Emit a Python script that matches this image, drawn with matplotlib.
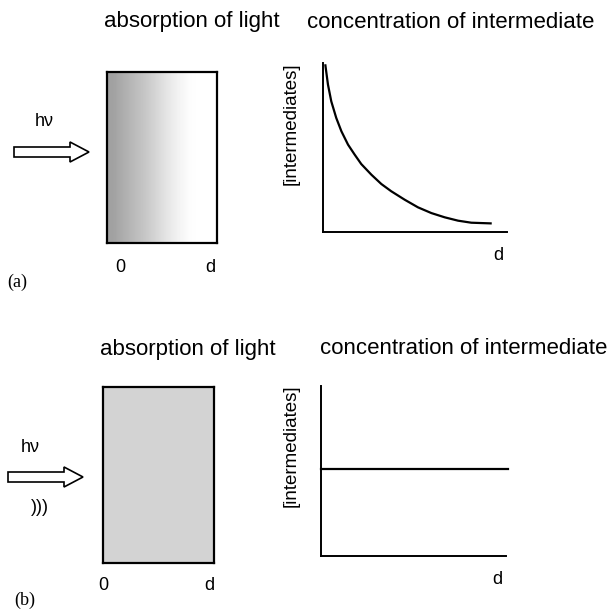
import matplotlib.pyplot as plt
import numpy as np
from matplotlib.patches import FancyArrow

plt.rcParams['font.family'] = ['Liberation Sans', 'DejaVu Sans']

W, H = 613, 609

# (a) light absorption across the cell (fraction absorbed, left to right)
absorb_a = [0.37, 0.32, 0.27, 0.22, 0.16, 0.10, 0.05, 0.01, 0.0, 0.0]
# (b) uniform absorption
absorb_b = [0.17, 0.17]

# (a) concentration of intermediates vs depth d
d_a = [0.013, 0.027, 0.045, 0.072, 0.100, 0.136, 0.172, 0.208, 0.263,
       0.317, 0.371, 0.444, 0.516, 0.589, 0.661, 0.734, 0.806, 0.911]
c_a = [0.986, 0.872, 0.773, 0.675, 0.596, 0.517, 0.458, 0.402, 0.339,
       0.284, 0.241, 0.191, 0.146, 0.112, 0.087, 0.067, 0.055, 0.051]
# (b) constant concentration
d_b = [0.0, 1.01]
c_b = [0.51, 0.51]

fig = plt.figure(figsize=(W / 100, H / 100), dpi=100)


def box(l, t, r, b):
    return [l / W, 1 - b / H, (r - l) / W, (b - t) / H]


def cell(l, t, r, b, absorb):
    ax = fig.add_axes(box(l, t, r, b))
    grey = 1 - np.array(absorb)[None, :]
    ax.imshow(grey, cmap='gray', vmin=0, vmax=1, aspect='auto',
              interpolation='bilinear', extent=[0, 1, 0, 1])
    ax.set_xticks([])
    ax.set_yticks([])
    for s in ax.spines.values():
        s.set_linewidth(1.6)
    return ax


def profile(l, t, r, b, x, y, label_pos):
    ax = fig.add_axes(box(l, t, r, b))
    ax.plot(x, y, color='black', lw=1.6, clip_on=False,
            solid_joinstyle='round')
    ax.set_xlim(0, 1)
    ax.set_ylim(0, 1)
    ax.spines['top'].set_visible(False)
    ax.spines['right'].set_visible(False)
    ax.spines['left'].set_linewidth(1.4)
    ax.spines['bottom'].set_linewidth(1.4)
    ax.set_xticks([])
    ax.set_yticks([])
    ax.set_ylabel('[intermediates]', fontsize=13.5)
    ax.yaxis.set_label_coords(*label_pos)
    return ax


cell(107, 72, 217, 243, absorb_a)
profile(323, 63, 507, 232, d_a, c_a, (-0.125, 0.64))
cell(103, 387, 214, 563, absorb_b)
profile(321, 386, 506, 556, d_b, c_b, (-0.114, 0.647))

# overlay in pixel coordinates for labels and arrows
ov = fig.add_axes([0, 0, 1, 1])
ov.set_xlim(0, W)
ov.set_ylim(H, 0)
ov.axis('off')


def arrow(x0, x1, y):
    ov.add_patch(FancyArrow(x0, y, x1 - x0, 0, width=10, head_width=20,
                            head_length=19, length_includes_head=True,
                            facecolor='white', edgecolor='black', lw=1.2))


for y0, xa, xc in [(0, 192, 451), (327, 188, 464)]:
    ov.text(xa, y0 + 22, 'absorption of light', fontsize=16,
            ha='center', va='center')
    ov.text(xc, y0 + 22, 'concentration of intermediate', fontsize=16,
            ha='center', va='center')

# panel (a)
arrow(14, 89, 152)
ov.text(44, 121, 'hν', fontsize=13, ha='center', va='center')
ov.text(120, 267, '0', fontsize=13, ha='center', va='center')
ov.text(210, 267, 'd', fontsize=13, ha='center', va='center')
ov.text(498, 255, 'd', fontsize=13, ha='center', va='center')
ov.text(17, 282, '(a)', fontsize=13, ha='center', va='center',
        family='Liberation Serif')

# panel (b)
arrow(8, 83, 477)
ov.text(30, 447, 'hν', fontsize=13, ha='center', va='center')
ov.text(40, 508, ')))', fontsize=13, ha='center', va='center')
ov.text(103, 585, '0', fontsize=13, ha='center', va='center')
ov.text(209, 585, 'd', fontsize=13, ha='center', va='center')
ov.text(497, 580, 'd', fontsize=13, ha='center', va='center')
ov.text(25, 600, '(b)', fontsize=13, ha='center', va='center',
        family='Liberation Serif')

fig.savefig('out.png', dpi=100)
